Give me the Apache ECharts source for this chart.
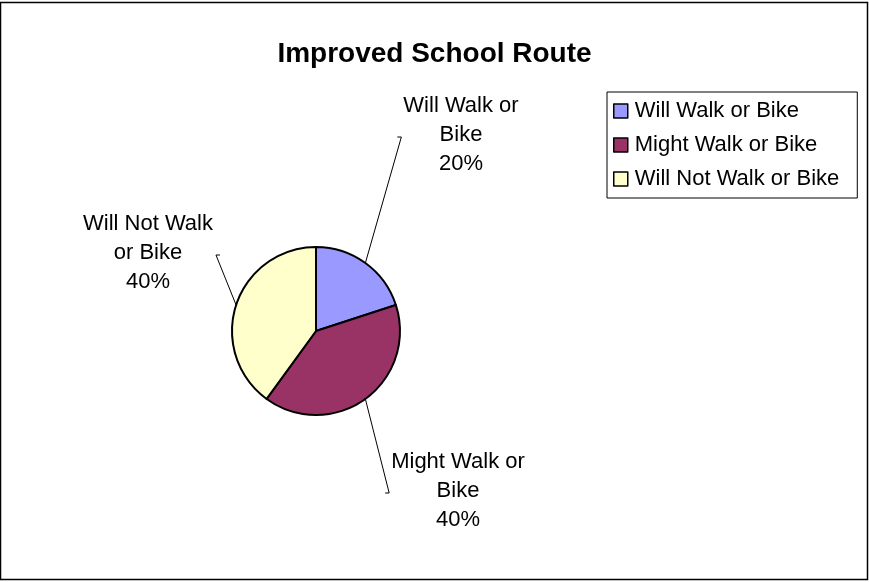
<!DOCTYPE html>
<html>
<head>
<meta charset="utf-8">
<script src="https://cdn.jsdelivr.net/npm/echarts@6/dist/echarts.min.js"></script>
<style>
  html, body { margin: 0; padding: 0; background: #fff; }
  #chart { width: 869px; height: 582px; }
</style>
</head>
<body>
<div id="chart"></div>
<script>
const categories = ["Will Walk or Bike", "Might Walk or Bike", "Will Not Walk or Bike"];
const shares = [20, 40, 40];
const labelNames = ["Will Walk or\nBike", "Might Walk or\nBike", "Will Not Walk\nor Bike"];
const colors = ["#9999FF", "#993366", "#FFFFCC"];

// where each slice label sits (text block centre), and which side the leader line meets
const labelSpots = [[461, 135], [458, 491], [148, 253]];
const labelSides = ["left", "left", "right"];

const myChart = echarts.init(document.getElementById("chart"));
myChart.setOption({
  animation: false,
  textStyle: { fontFamily: "Liberation Sans, Arial, sans-serif" },
  title: {
    text: "Improved School Route",
    left: "center",
    top: 35,
    textStyle: { fontSize: 28, fontWeight: "bold", color: "#000" },
  },
  graphic: [
    {
      type: "rect",
      shape: { x: 0.5, y: 2.5, width: 867, height: 577 },
      style: { fill: "none", stroke: "#000", lineWidth: 1.5 },
      silent: true,
    },
  ],
  legend: {
    orient: "vertical",
    left: 607,
    top: 92,
    padding: [8, 18, 8, 6],
    itemGap: 12,
    itemWidth: 14,
    itemHeight: 14,
    icon: "rect",
    borderColor: "#000",
    borderWidth: 1,
    textStyle: { fontSize: 22, color: "#000", padding: [2, 0, 0, 2] },
    itemStyle: { borderColor: "#000", borderWidth: 1.5 },
    data: categories,
  },
  series: [
    {
      type: "pie",
      center: [316, 331],
      radius: 84,
      startAngle: 90,
      clockwise: true,
      data: categories.map((name, i) => ({
        name: name,
        value: shares[i],
        itemStyle: { color: colors[i] },
      })),
      itemStyle: { borderColor: "#000", borderWidth: 2 },
      label: {
        show: true,
        formatter: (p) => labelNames[p.dataIndex] + "\n" + p.percent.toFixed(0) + "%",
        fontSize: 22,
        lineHeight: 29,
        color: "#000",
        align: "center",
      },
      labelLine: {
        show: true,
        length: 20,
        length2: 6,
        lineStyle: { color: "#000", width: 1 },
      },
      labelLayout: (params) => {
        const i = params.dataIndex;
        const spot = labelSpots[i];
        const half = params.labelRect.width / 2;
        const dir = labelSides[i] === "left" ? -1 : 1;
        const endX = spot[0] + dir * (half + (dir < 0 ? 6 : 7));
        const endY = spot[1] + 2;
        const start = params.labelLinePoints ? params.labelLinePoints[0] : null;
        const out = {
          x: spot[0],
          y: spot[1],
          align: "center",
          verticalAlign: "middle",
        };
        if (start) {
          out.labelLinePoints = [start, [endX - dir * 4, endY], [endX, endY]];
        }
        return out;
      },
      emphasis: { disabled: true },
    },
  ],
});
</script>
</body>
</html>
